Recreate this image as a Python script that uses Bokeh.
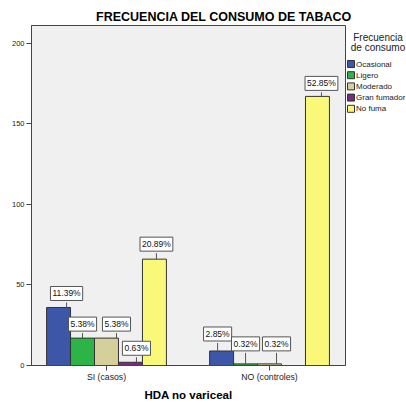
from bokeh.plotting import figure
from bokeh.layouts import row, column
from bokeh.models import Range1d, FixedTicker
from bokeh.embed import file_html
from bokeh.resources import INLINE
from bokeh.core.properties import value

# ---- data ----
categories = ["SI (casos)", "NO (controles)"]
series = ["Ocasional", "Ligero", "Moderado", "Gran fumador", "No fuma"]
colors = ["#3D57A8", "#2DB446", "#D4CF9B", "#7B2A7E", "#FAF878"]
counts_si = [36, 17, 17, 2, 66]
counts_no = [9, 1, 1, 0, 167]
total_n = 316
y_ticks = [0, 50, 100, 150, 200]
legend_title = ["Frecuencia", "de consumo"]
chart_title = "FRECUENCIA DEL CONSUMO DE TABACO"

# ---- label layout tweaks (pixels), one per non-zero bar ----
label_dx_px = [8, 0, 10, 6, 2, -4, 0, 7, 4]
label_gap_px = [5, 5, 5, 5, 6, 8, 11, 11, 4]

FONT = "Liberation Sans"
X0, X1 = -0.46, 1.466
Y0, Y1 = 0, 211
FRAME_W, FRAME_H = 314, 340
px_x = (X1 - X0) / FRAME_W
px_y = (Y1 - Y0) / FRAME_H
bar_w = 0.147
TOP_H = 25


def bare(w, h, xr, yr):
    f = figure(width=w, height=h, output_backend="svg", toolbar_location=None,
               x_range=xr, y_range=yr, min_border=0, min_border_left=0,
               min_border_right=0, min_border_top=0, min_border_bottom=0,
               x_axis_location=None, y_axis_location=None)
    f.outline_line_color = None
    f.grid.visible = False
    f.background_fill_color = "white"
    f.border_fill_color = "white"
    return f


# ---- title strip ----
t = bare(406, TOP_H, Range1d(0, 406), Range1d(TOP_H, 0))
t.text(x=[223.5], y=[16.5], text=[chart_title], text_align="center",
       text_baseline="middle", text_font=value(FONT), text_font_size="12.5px",
       text_font_style="bold", text_color="#000000")

# ---- main chart ----
p = figure(width=346, height=403 - TOP_H, output_backend="svg",
           toolbar_location=None,
           x_range=Range1d(X0, X1), y_range=Range1d(Y0, Y1),
           min_border_left=31, min_border_right=1, min_border_top=0,
           min_border_bottom=38)

counts = [counts_si, counts_no]
lx, ly0, ly1, ltxt = [], [], [], []
for i, name in enumerate(series):
    xs = [c + (i - 2) * bar_w for c in range(len(categories))]
    tops = [counts[c][i] for c in range(len(categories))]
    p.vbar(x=xs, top=tops, bottom=0, width=bar_w, fill_color=colors[i],
           line_color="#333333", line_width=1)

k = 0
for c in range(len(categories)):
    for i in range(len(series)):
        v = counts[c][i]
        if v > 0:
            x = c + (i - 2) * bar_w + label_dx_px[k] * px_x
            lx.append(x)
            ly0.append(v)
            ly1.append(v + label_gap_px[k] * px_y)
            ltxt.append(f"{100 * v / total_n:.2f}%")
            k += 1

p.segment(x0=lx, y0=ly0, x1=lx, y1=ly1, line_color="#555555", line_width=1)
p.text(x=lx, y=ly1, text=ltxt, text_align="center", text_baseline="bottom",
       text_font=value(FONT), text_font_size="8.5px", text_color="#111111",
       y_offset=-2, background_fill_color="white", border_line_color="#555555",
       border_line_width=1, padding=2)

p.background_fill_color = "#F0F0F0"
p.border_fill_color = "white"
p.outline_line_color = "#444444"
p.grid.visible = False

p.xaxis.ticker = FixedTicker(ticks=[0, 1])
p.xaxis.major_label_overrides = {0: categories[0], 1: categories[1]}
p.xaxis.axis_label = "HDA no variceal"
p.xaxis.axis_label_text_font = FONT
p.xaxis.axis_label_text_font_size = "11.5px"
p.xaxis.axis_label_text_font_style = "bold"
p.xaxis.axis_label_text_color = "#000000"
p.xaxis.axis_label_standoff = 4
p.xaxis.major_label_text_font_size = "8.7px"
p.xaxis.major_label_standoff = 1

p.yaxis.ticker = FixedTicker(ticks=y_ticks)
p.yaxis.major_label_text_font_size = "7.5px"
p.yaxis.major_label_standoff = 2

for ax in (p.xaxis[0], p.yaxis[0]):
    ax.major_label_text_font = FONT
    ax.major_label_text_color = "#222222"
    ax.major_tick_out = 5
    ax.major_tick_in = 0
    ax.minor_tick_line_color = None
    ax.axis_line_color = "#444444"
    ax.major_tick_line_color = "#444444"

# ---- legend panel (frame aligned with main frame: page y 25..365) ----
LW = 60
q = bare(LW, 403 - TOP_H, Range1d(346, 346 + LW), Range1d(365, 25))
q.min_border_bottom = 38

title_y0, title_step = 36.5, 10.8
q.text(x=[377.5] * len(legend_title),
       y=[title_y0 + j * title_step for j in range(len(legend_title))],
       text=legend_title, text_align="center", text_baseline="middle",
       text_font=value(FONT), text_font_size="10px", text_color="#222222")

item_y0, item_step = 63.5, 11.2
iy = [item_y0 + j * item_step for j in range(len(series))]
q.rect(x=[350.5] * len(series), y=iy, width=7, height=7, fill_color=colors,
       line_color="#333333", line_width=1)
q.text(x=[355.5] * len(series), y=iy, text=series, text_align="left",
       text_baseline="middle", text_font=value(FONT), text_font_size="8px",
       text_color="#222222")

layout = column(t, row(p, q, spacing=0), spacing=0)
open("out.html", "w").write(file_html(layout, INLINE))
